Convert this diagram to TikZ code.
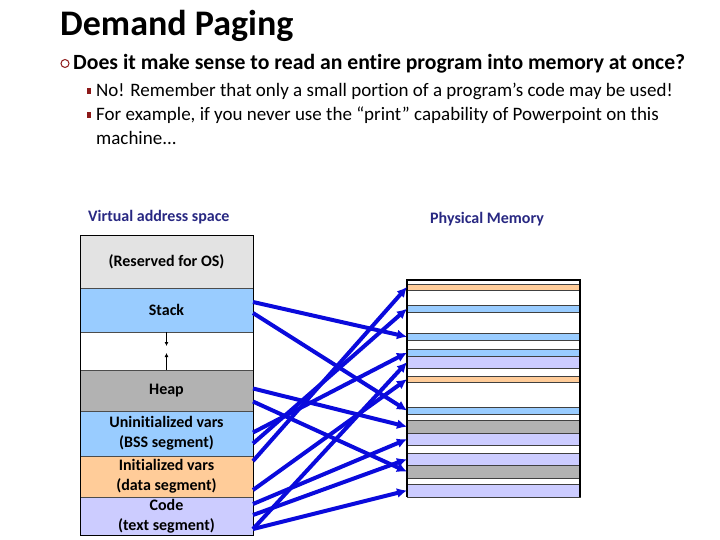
\documentclass[tikz,border=0pt]{standalone}
\usepackage{fontspec}
\setmainfont[Ligatures={NoCommon,NoContextual}]{Carlito}
\usepackage{xcolor}
\usetikzlibrary{arrows.meta,positioning}
\definecolor{navy}{RGB}{40,40,130}
\definecolor{bulletred}{RGB}{140,25,25}
\definecolor{mapblue}{RGB}{10,10,220}
\definecolor{osgray}{RGB}{227,227,227}
\definecolor{stackblue}{RGB}{153,204,255}
\definecolor{heapgray}{RGB}{178,178,178}
\definecolor{datapeach}{RGB}{255,204,153}
\definecolor{codelav}{RGB}{204,204,255}

\begin{document}
\begin{tikzpicture}[x=1pt,y=-1pt,
  node distance=0pt,
  seg/.style={draw=black!70,fill=white,minimum width=173pt,inner sep=0pt,outer sep=0pt,align=center,font=\fontsize{16}{20}\selectfont\bfseries},
  strip/.style={draw=black!75,minimum width=173pt,inner sep=0pt,outer sep=0pt},
  lbl/.style={anchor=base west,inner sep=0pt,font=\fontsize{16}{18}\selectfont\bfseries,text=navy},
  txt/.style={anchor=base west,inner sep=0pt},
  sq/.style={fill=bulletred,minimum width=4pt,minimum height=6pt,inner sep=0pt},
  growarr/.style={-{Latex[length=4pt,width=4pt]},line width=1.2pt},
  map/.style={-{Latex[length=10pt,width=10pt]},line width=4pt,mapblue}]
  \useasboundingbox (0,0) rectangle (720,540);
  % title and bullets
  \node[txt,font=\fontsize{36}{40}\selectfont\bfseries] (title) at (60,36) {Demand Paging};
  \node[draw=bulletred,circle,line width=1pt,minimum size=8pt,inner sep=0pt] (b0) at (65,63.5) {};
  \node[txt,font=\fontsize{21.7}{24}\selectfont\bfseries] (q) at (73,69.5) {Does it make sense to read an entire program into memory at once?};
  \node[sq] (sq1) at (89,91) {};
  \node[txt,font=\fontsize{19}{22}\selectfont] (a1) at (96,97) {No! Remember that only a small portion of a program\char39 s code may be used!};
  \node[sq] (sq2) at (89,115) {};
  \node[txt,font=\fontsize{19}{22}\selectfont] (a2) at (96,121) {For example, if you never use the “print” capability of Powerpoint on this};
  \node[txt,font=\fontsize{19}{22}\selectfont] (a3) at (96,144.5) {machine...};

  % virtual address space
  \node[lbl] (vlabel) at (88,222) {Virtual address space};
  \node[seg,fill=osgray,minimum height=53pt,anchor=north west] (os) at (80,235) {(Reserved for OS)};
  \node[seg,fill=stackblue,minimum height=44pt,below=of os] (stack) {Stack};
  \node[seg,minimum height=38pt,below=of stack] (gap) {};
  \node[seg,fill=heapgray,minimum height=41pt,below=of gap] (heap) {Heap};
  \node[seg,fill=stackblue,minimum height=45pt,below=of heap] (bss) {Uninitialized vars\\(BSS segment)};
  \node[seg,fill=datapeach,minimum height=41pt,below=of bss] (data) {Initialized vars\\(data segment)};
  \node[seg,fill=codelav,minimum height=38pt,below=of data] (code) {Code\\(text segment)};
  \draw[line width=1pt] (os.north west) rectangle (code.south east);
  \draw[growarr] (gap.north) -- ([yshift=-14pt]gap.north);
  \draw[growarr] (gap.south) -- ([yshift=17pt]gap.south);

  % physical memory
  \node[lbl] (plabel) at (430,224) {Physical Memory};
  \node[strip,fill=datapeach,minimum height=6pt] (d1) at (493.5,287) {};
  \node[strip,fill=stackblue,minimum height=7pt] (b1) at (493.5,308.7) {};
  \node[strip,fill=stackblue,minimum height=7pt] (b2) at (493.5,336.8) {};
  \node[strip,fill=stackblue,minimum height=6.7pt] (b3) at (493.5,352.7) {};
  \node[strip,fill=codelav,minimum height=12.3pt] (c1) at (493.5,362.2) {};
  \node[strip,fill=datapeach,minimum height=6.3pt] (d2) at (493.5,379.2) {};
  \node[strip,fill=stackblue,minimum height=7.6pt] (b4) at (493.5,410.5) {};
  \node[strip,fill=heapgray,minimum height=13.3pt] (h1) at (493.5,426.7) {};
  \node[strip,fill=codelav,minimum height=11.7pt] (c2) at (493.5,439.2) {};
  \node[strip,fill=codelav,minimum height=11.7pt] (c3) at (493.5,459.2) {};
  \node[strip,fill=heapgray,minimum height=13.3pt] (h2) at (493.5,471.7) {};
  \node[strip,fill=codelav,minimum height=12.4pt] (c4) at (493.5,490.5) {};
  \draw[line width=1.6pt] (407,497) -- (407,280) -- (580,280) -- (580,497);

  % page mappings
  \draw[map] ([yshift=8pt]stack.east) -- (b2.west);
  \draw[map] ([yshift=-3pt]stack.east) -- (b4.west);
  \draw[map] ([yshift=2pt]heap.east) -- (h1.west);
  \draw[map] ([yshift=-11pt]heap.east) -- (h2.west);
  \draw[map] ([yshift=1pt]bss.east) -- (b3.west);
  \draw[map] ([yshift=-10pt]bss.east) -- (b1.west);
  \draw[map] ([yshift=15.5pt]data.east) -- (d1.west);
  \draw[map] ([yshift=-13.5pt]data.east) -- (d2.west);
  \draw[map] ([yshift=12pt]code.east) -- (c2.west);
  \draw[map] ([yshift=1pt]code.east) -- (c3.west);
  \draw[map] ([yshift=-13pt]code.east) -- (c1.west);
  \draw[map] ([yshift=-13pt]code.east) -- (c4.west);
\end{tikzpicture}
\end{document}
